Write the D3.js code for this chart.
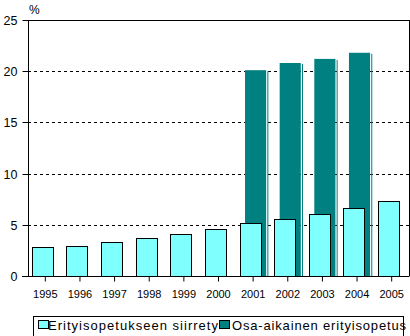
<!DOCTYPE html>
<html>
<head>
<meta charset="utf-8">
<script src="https://cdn.jsdelivr.net/npm/d3@7"></script>
<style>
  html, body { margin: 0; padding: 0; background: #fff; }
  svg { display: block; font-family: "Liberation Sans", Arial, sans-serif; }
</style>
</head>
<body>
<svg id="chart" width="410" height="336"></svg>
<script>
// Years on the x axis
const years = ["1995","1996","1997","1998","1999","2000","2001","2002","2003","2004","2005"];
// Pupils transferred to special education, %
const siirretyt = [2.8, 2.9, 3.3, 3.7, 4.1, 4.6, 5.2, 5.6, 6.1, 6.6, 7.3];
// Part-time special education, % (recorded from 2001 to 2004)
const osaAikainen = [null, null, null, null, null, null, 20.1, 20.8, 21.2, 21.8, null];
const yTicks = [0, 5, 10, 15, 20, 25];
const seriesNames = ["Erityisopetukseen siirretyt", "Osa-aikainen erityisopetus"];
const colors = ["#80ffff", "#008080"];

const svg = d3.select("#chart");
const plotLeft = 28, plotRight = 409, plotTop = 20, plotBottom = 276;

const x = d3.scaleBand().domain(years).range([plotLeft, plotRight]).paddingInner(0).paddingOuter(0);
const y = d3.scaleLinear().domain([0, 25]).range([plotBottom, plotTop]);
const bw = x.bandwidth();

// Dashed gridlines and the solid top line
svg.append("g").selectAll("line").data(yTicks.filter(t => t > 0)).join("line")
  .attr("x1", plotLeft).attr("x2", plotRight)
  .attr("y1", d => Math.round(y(d)) + 0.5).attr("y2", d => Math.round(y(d)) + 0.5)
  .attr("stroke", "#000").attr("stroke-width", 1)
  .attr("stroke-dasharray", d => d === 25 ? null : "3,3");

// Right frame line
svg.append("line").attr("x1", plotRight + 0.5).attr("x2", plotRight + 0.5)
  .attr("y1", plotTop).attr("y2", plotBottom).attr("stroke", "#000");

// Part-time series, drawn behind
const tealData = years.map((yr, i) => ({yr, v: osaAikainen[i]})).filter(d => d.v != null);
const tg = svg.append("g");
tg.selectAll("rect.main").data(tealData).join("rect").attr("class", "main")
  .attr("x", d => x(d.yr) + bw * 0.266)
  .attr("width", bw * 0.61)
  .attr("y", d => y(d.v))
  .attr("height", d => plotBottom - y(d.v))
  .attr("fill", colors[1]);
tg.selectAll("rect.edge").data(tealData).join("rect").attr("class", "edge")
  .attr("x", d => x(d.yr) + bw * 0.266 + bw * 0.61 + 1.2)
  .attr("width", 1)
  .attr("y", d => y(d.v) + 1)
  .attr("height", d => plotBottom - y(d.v) - 1)
  .attr("fill", colors[1]);

// Transferred series, in front
svg.append("g").selectAll("rect").data(years.map((yr, i) => ({yr, v: siirretyt[i]}))).join("rect")
  .attr("x", d => Math.round(x(d.yr) + bw * 0.107) + 0.5)
  .attr("width", Math.round(bw * 0.595))
  .attr("y", d => Math.round(y(d.v)) + 0.5)
  .attr("height", d => plotBottom - Math.round(y(d.v)))
  .attr("fill", colors[0]).attr("stroke", "#000").attr("stroke-width", 1);

// Y axis
const yAxis = svg.append("g").attr("transform", `translate(${plotLeft + 0.5},0)`)
  .call(d3.axisLeft(y).tickValues(yTicks).tickSize(6).tickPadding(5).tickFormat(d3.format("d")));
yAxis.select(".domain").attr("d", `M0,${plotTop}V${plotBottom}`).attr("stroke", "#000");
yAxis.selectAll(".tick line").attr("stroke", "#000");
yAxis.selectAll("text").attr("font-size", 12.5).attr("fill", "#000").attr("font-family", "Liberation Sans, Arial, sans-serif");
yAxis.selectAll(".tick").attr("transform", d => `translate(0,${Math.round(y(d)) + 0.5})`);

// X axis
const xAxis = svg.append("g").attr("transform", `translate(0,${plotBottom + 0.5})`)
  .call(d3.axisBottom(x).tickSize(5).tickPadding(9).tickSizeOuter(0));
xAxis.select(".domain").attr("d", `M${plotLeft - 6},0H${plotRight + 0.5}`).attr("stroke", "#000");
xAxis.selectAll(".tick line").attr("stroke", "#000");
xAxis.selectAll("text").attr("font-size", 11).attr("fill", "#000").attr("font-family", "Liberation Sans, Arial, sans-serif");

// Unit label
svg.append("text").attr("x", 29).attr("y", 14).attr("font-size", 12).text("%");

// Legend
const lg = svg.append("g");
lg.append("rect").attr("x", 33.5).attr("y", 316.5).attr("width", 370).attr("height", 40)
  .attr("fill", "#fff").attr("stroke", "#000");
const items = [
  {name: seriesNames[0], color: colors[0], sx: 38, tx: 48, target: 170, visible: "Erityisopetukseen siirrety"},
  {name: seriesNames[1], color: colors[1], sx: 219, tx: 232, target: 174, visible: "Osa-aikainen erityisopetus"}
];
items.forEach((it, i) => {
  const g = lg.append("g");
  if (i > 0) g.append("rect").attr("x", it.sx - 1).attr("y", 317).attr("width", 12).attr("height", 14).attr("fill", "#fff");
  g.append("rect").attr("x", it.sx + 0.5).attr("y", 320.5).attr("width", 10).attr("height", 8)
    .attr("fill", it.color).attr("stroke", "#000");
  const t = g.append("text").attr("x", it.tx).attr("y", 330).attr("font-size", 13).text(it.visible);
  const w = t.node().getComputedTextLength();
  const ls = (it.target - w) / (it.visible.length - 1);
  t.attr("letter-spacing", ls).text(it.name);
});
</script>
</body>
</html>
